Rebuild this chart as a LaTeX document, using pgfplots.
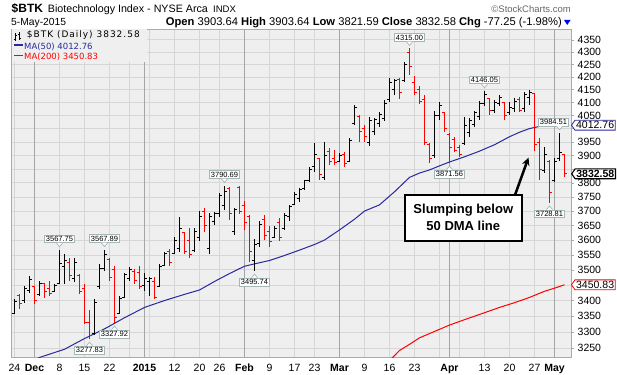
\documentclass[border=0pt]{standalone}
\usepackage{pgfplots}
\pgfplotsset{compat=1.18}
\usepackage{pgfplotstable}
\usepackage{fontspec}
\setmainfont{Liberation Sans}
\newfontfamily\dejavu{DejaVu Sans}
\newfontfamily\dejavuls[LetterSpace=11]{DejaVu Sans}
\usetikzlibrary{shapes.symbols,arrows.meta}

\definecolor{bgc}{RGB}{239,239,239}
\definecolor{gridl}{RGB}{214,214,214}
\definecolor{gridd}{RGB}{165,165,165}
\definecolor{bord}{RGB}{158,176,176}
\definecolor{bred}{RGB}{255,0,0}
\definecolor{mablue}{RGB}{40,40,160}
\definecolor{lblb}{RGB}{165,182,182}

\pgfdeclareplotmark{otick}{\pgfpathmoveto{\pgfqpoint{-2.8pt}{0pt}}\pgfpathlineto{\pgfqpoint{0pt}{0pt}}\pgfusepathqstroke}
\pgfdeclareplotmark{ctick}{\pgfpathmoveto{\pgfqpoint{0pt}{0pt}}\pgfpathlineto{\pgfqpoint{2.8pt}{0pt}}\pgfusepathqstroke}

\pgfplotsset{
  upbars/.style={restrict expr to domain={\thisrow{u}}{0.5:1.5}},
  dnbars/.style={restrict expr to domain={\thisrow{u}}{-0.5:0.5}},
}
\tikzset{
  lbl/.style={draw=lblb, fill=white, line width=0.7pt, inner sep=1.3pt, font=\fontsize{7.5}{8}\selectfont},
  tag/.style={signal, signal to=west, signal pointer angle=110, fill=white, inner sep=1.2pt, anchor=west, font=\fontsize{10.5}{12}\selectfont, line width=0.8pt},
}
% label above a high: #1 index, #2 value, #3 text, #4 horizontal offset of the box
\newcommand{\lblup}[4][0]{%
  \node[lbl, anchor=south, yshift=6.5pt, xshift=#1pt] (n) at (axis cs:#2,#3) {#4};
  \fill[white] ([xshift=-3pt-#1pt,yshift=0.35pt]n.south) -- ([xshift=-#1pt,yshift=-3.5pt]n.south) -- ([xshift=3pt-#1pt,yshift=0.35pt]n.south) -- cycle;
  \draw[lblb, line width=0.7pt] ([xshift=-3pt-#1pt]n.south) -- ([xshift=-#1pt,yshift=-3.5pt]n.south) -- ([xshift=3pt-#1pt]n.south);}
\newcommand{\lbldn}[3]{%
  \node[lbl, anchor=north, yshift=-6.5pt] (n) at (axis cs:#1,#2) {#3};
  \fill[white] ([xshift=-3pt,yshift=-0.35pt]n.north) -- ([yshift=3.5pt]n.north) -- ([xshift=3pt,yshift=-0.35pt]n.north) -- cycle;
  \draw[lblb, line width=0.7pt] ([xshift=-3pt]n.north) -- ([yshift=3.5pt]n.north) -- ([xshift=3pt]n.north);}

% daily bars: index, open, high, low, close, up(1)/down(0)
\pgfplotstableread{
i o h l c u
0 3358 3404 3356 3398 1
1 3415 3420 3374 3390 0
2 3400 3447 3393 3438 1
3 3432 3480 3425 3468 1
4 3445 3447 3388 3400 0
5 3418 3463 3414 3455 1
6 3455 3458 3409 3428 0
7 3440 3462 3414 3422 0
8 3430 3455 3428 3450 1
9 3455 3567.75 3453 3520 1
10 3510 3552 3455 3530 1
11 3525 3540 3462 3480 0
12 3470 3541 3459 3525 1
13 3480 3485 3420 3430 0
14 3440 3453 3325 3330 0
15 3330 3370 3277.83 3290 0
16 3295 3404 3290 3395 1
17 3445 3518 3436 3505 1
18 3505 3567.89 3495 3550 1
19 3535 3538 3462 3475 0
20 3500 3512 3327.92 3345 0
21 3360 3414 3356 3405 1
22 3410 3491 3407 3485 1
23 3470 3508 3462 3500 1
24 3495 3502 3453 3465 0
25 3490 3512 3436 3445 0
26 3450 3491 3430 3470 1
27 3460 3475 3415 3472 1
28 3460 3478 3404 3410 0
29 3445 3518 3443 3510 1
30 3515 3561 3512 3555 1
31 3560 3568 3512 3525 0
32 3555 3609 3552 3600 1
33 3570 3681 3558 3640 1
34 3625 3629 3552 3560 0
35 3600 3643 3541 3550 0
36 3565 3643 3561 3630 1
37 3610 3700 3596 3680 1
38 3700 3711 3626 3650 0
39 3570 3695 3552 3680 1
40 3665 3698 3653 3690 1
41 3690 3765 3678 3755 1
42 3720 3790.69 3705 3770 1
43 3780 3785 3670 3690 0
44 3630 3711 3619 3706 1
45 3785 3790 3690 3700 0
46 3720 3734 3636 3660 0
47 3680 3688 3525 3560 0
48 3530 3602 3495.74 3585 1
49 3590 3664 3578 3655 1
50 3670 3688 3599 3615 0
51 3630 3647 3578 3595 0
52 3610 3647 3609 3640 1
53 3660 3677 3596 3610 0
54 3640 3695 3636 3685 1
55 3680 3723 3664 3715 1
56 3725 3769 3723 3760 1
57 3745 3782 3733 3775 1
58 3780 3812 3776 3808 1
59 3810 3859 3804 3850 1
60 3860 3947 3840 3905 1
61 3890 3892 3812 3830 0
62 3820 3951 3812 3900 1
63 3915 3929 3866 3880 0
64 3890 3921 3866 3875 0
65 3880 3910 3875 3900 1
66 3905 3914 3859 3870 0
67 3880 3966 3877 3955 1
68 4020 4091 4015 4080 1
69 4045 4053 3951 3990 0
70 4000 4015 3951 3970 0
71 3950 4045 3936 4030 1
72 3990 4040 3977 4036 1
73 4020 4064 4007 4055 1
74 4040 4110 4030 4095 1
75 4110 4197 4103 4180 1
76 4150 4192 4130 4188 1
77 4190 4197 4115 4140 0
78 4185 4260 4180 4250 1
79 4300 4315 4209 4240 0
80 4180 4205 4130 4140 0
81 4150 4165 4095 4105 0
82 4110 4130 3940 3950 0
83 3940 3947 3873 3890 0
84 3900 4068 3890 4050 1
85 4050 4103 4034 4090 1
86 4060 4064 3988 4000 0
87 3980 3985 3871.56 3930 0
88 3960 3968 3912 3920 0
89 3930 3940 3895 3905 0
90 3945 4045 3940 4010 1
91 3985 4040 3970 4030 1
92 4015 4068 4007 4060 1
93 4045 4106 4034 4095 1
94 4095 4146.05 4087 4130 1
95 4115 4116 4053 4070 0
96 4070 4110 4060 4100 1
97 4095 4130 4087 4120 1
98 4100 4103 4034 4050 0
99 4060 4100 4053 4080 1
100 4075 4116 4064 4105 1
101 4110 4120 4064 4070 0
102 4075 4140 4064 4130 1
103 4120 4149 4091 4140 1
104 4135 4137 3916 3940 0
105 3950 3965 3812 3850 0
106 3845 3931 3838 3905 1
107 3880 3884 3728.81 3765 0
108 3810 3891 3803 3880 1
109 3890 3984.51 3880 3909.83 1
110 3903.64 3903.64 3821.59 3832.58 0
}\ohlc

% 50-day moving average
\pgfplotstableread{
i v
0 3180
5 3222
10 3247
14 3280
18 3310
22 3345
26 3378
30 3400
34 3420
37 3434
40 3462
43 3488
46 3512
48 3520
51 3531
54 3548
57 3566
60 3585
62 3600
65 3635
68 3672
70 3700
73 3722
76 3768
79 3820
81 3836
83 3847
85 3862
87 3876
90 3895
93 3916
96 3940
99 3970
101 3987
103 4000
105 4008
107 4012
110 4012.76
}\maf

% 200-day moving average
\pgfplotstableread{
i v
75 3212
77 3243
79 3262
81 3282
84 3302
87 3322
90 3339
94 3361
97 3378
100 3393
103 3410
106 3430
108 3440
110 3450.83
}\mat

\begin{document}
\begin{tikzpicture}[x=1pt,y=1pt]
\path[use as bounding box] (0,0) rectangle (617,374);
\begin{axis}[
  at={(11pt,16pt)}, anchor=south west,
  scale only axis, width=560pt, height=328.7pt,
  xmin=-0.7, xmax=111.3,
  ymode=log, ymin=3220.4, ymax=4394.2,
  axis background/.style={fill=bgc},
  axis line style={bord, line width=0.8pt},
  clip mode=individual,
  ytick={3250,3300,3350,3400,3450,3500,3550,3600,3650,3700,3750,3800,3850,3900,3950,4000,4050,4100,4150,4200,4250,4300,4350},
  yticklabels={3250,3300,3350,3400,,3500,3550,3600,3650,3700,3750,3800,,3900,3950,,4050,4100,4150,4200,4250,4300,4350},
  yticklabel pos=right, ytick pos=right,
  yticklabel style={anchor=west, inner sep=0pt, xshift=3.5pt, font=\fontsize{10.5}{12}\selectfont},
  tick align=outside, major tick length=3pt,
  ytick style={bord, line width=0.7pt},
  xtick pos=bottom, xtick style={draw=none},
  xtick={0,9,14,19,32,37,41,51,56,60,70,75,80,94,99,104},
  xticklabels={24,8,15,22,12,20,26,9,17,23,9,16,23,13,20,27},
  xticklabel style={font=\fontsize{10.5}{12}\selectfont},
  extra x ticks={4,26,46,65,87,108},
  extra x tick labels={\textbf{Dec},\textbf{2015},\textbf{Feb},\textbf{Mar},\textbf{Apr},\textbf{May}},
  extra x tick style={grid=major, major grid style={gridd, line width=0.8pt}, tick style={draw=none}},
  minor xtick={23,27,85,89}, minor tick length=0pt,
  xmajorgrids, xminorgrids, ymajorgrids,
  major grid style={gridl, line width=0.8pt},
  minor grid style={gridl, line width=0.8pt},
]
% legend backdrop (hides grid under the legend text)
\fill[bgc] (rel axis cs:0.002,1) rectangle ([yshift=-33pt]axis cs:26.5,4394.2);
% moving averages
\addplot[mablue, line width=1pt] table[x=i,y=v]{\maf};
\addplot[bred, line width=1pt] table[x=i,y=v]{\mat};

% up bars (black): high-low range, open and close ticks
\addplot[draw=none, mark=none, upbars,
  error bars/.cd, y dir=both, y explicit, error mark=none,
  error bar style={draw=black, line width=1pt}]
  table[x=i, y=c, y error plus expr=\thisrow{h}-\thisrow{c}, y error minus expr=\thisrow{c}-\thisrow{l}]{\ohlc};
\addplot[black, only marks, mark=otick, mark options={line width=1pt}, upbars] table[x=i,y=o]{\ohlc};
\addplot[black, only marks, mark=ctick, mark options={line width=1pt}, upbars] table[x=i,y=c]{\ohlc};
% down bars (red)
\addplot[draw=none, mark=none, dnbars,
  error bars/.cd, y dir=both, y explicit, error mark=none,
  error bar style={draw=bred, line width=1pt}]
  table[x=i, y=c, y error plus expr=\thisrow{h}-\thisrow{c}, y error minus expr=\thisrow{c}-\thisrow{l}]{\ohlc};
\addplot[bred, only marks, mark=otick, mark options={line width=1pt}, dnbars] table[x=i,y=o]{\ohlc};
\addplot[bred, only marks, mark=ctick, mark options={line width=1pt}, dnbars] table[x=i,y=c]{\ohlc};

% high / low annotations
\lblup{9}{3567.75}{3567.75}
\lblup{18}{3567.89}{3567.89}
\lbldn{15}{3277.83}{3277.83}
\lbldn{20}{3327.92}{3327.92}
\lblup{42}{3790.69}{3790.69}
\lbldn{48}{3495.74}{3495.74}
\lblup{79}{4315.00}{4315.00}
\lbldn{87}{3871.56}{3871.56}
\lblup{94}{4146.05}{4146.05}
\lbldn{107}{3728.81}{3728.81}
\lblup[-6]{109}{3984.51}{3984.51}

% last-value tags
\node[tag, draw=mablue] at (axis cs:111.3,4012.76) {4012.76};
\node[tag, draw=black, line width=1.1pt, font=\fontsize{10.5}{12}\selectfont\bfseries] at (axis cs:111.3,3832.58) {3832.58};
\node[tag, draw=bred] at (axis cs:111.3,3450.83) {3450.83};
\end{axis}

% header
\node[anchor=base west, inner sep=0, font=\fontsize{12}{14}\selectfont\bfseries] at (11.5,361.3) {\$BTK};
\node[anchor=base west, inner sep=0, font=\fontsize{10.7}{13}\selectfont] at (47.7,361.3) {Biotechnology Index - NYSE Arca};
\node[anchor=base west, inner sep=0, font=\fontsize{9.5}{11}\selectfont] at (213,361.3) {INDX};
\node[anchor=base east, inner sep=0, font=\fontsize{9.5}{11}\selectfont, text=black!60] at (571,361.3) {\textcopyright StockCharts.com};
\node[anchor=base west, inner sep=0, font=\fontsize{10.3}{12}\selectfont] at (11,348) {5-May-2015};
\node[anchor=base east, inner sep=0, font=\fontsize{11.2}{13}\selectfont] at (562,348) {\textbf{Open} 3903.64 \textbf{High} 3903.64 \textbf{Low} 3821.59 \textbf{Close} 3832.58 \textbf{Chg} -77.25 (-1.98\%)};
\fill[blue] (564,354) -- (570.5,354) -- (567.25,349) -- cycle;

% legend
\draw[black, line width=0.7pt] (15,333) -- (15,341) (13.5,335) -- (15,335) (15,339) -- (16.5,339)
  (19,334) -- (19,342) (17.5,340) -- (19,340) (19,336) -- (20.5,336);
\node[anchor=base west, inner sep=0, font=\dejavuls\fontsize{9}{11}\selectfont] at (26.7,336.3) {\$BTK (Daily) 3832.58};
\draw[mablue, line width=1.6pt] (14,329) -- (22.7,329);
\node[anchor=base west, inner sep=0, font=\dejavu\fontsize{8.5}{10}\selectfont, text=mablue] at (24,324.7) {MA(50) 4012.76};
\draw[bred, line width=1.6pt] (14,318.3) -- (22.7,318.3);
\node[anchor=base west, inner sep=0, font=\dejavu\fontsize{8.5}{10}\selectfont, text=bred] at (24,314) {MA(200) 3450.83};

% callout
\draw[black, line width=2pt, fill=white] (405,132.5) rectangle (521.5,179);
\node[anchor=base, inner sep=0, font=\fontsize{13}{15}\selectfont\bfseries] at (463.3,160) {Slumping below};
\node[anchor=base, inner sep=0, font=\fontsize{13}{15}\selectfont\bfseries] at (463.3,143) {50 DMA line};
\draw[black, line width=2.5pt, -{Stealth[length=8pt,width=7.5pt]}] (515,179) -- (528.5,216.5);
\end{tikzpicture}
\end{document}
